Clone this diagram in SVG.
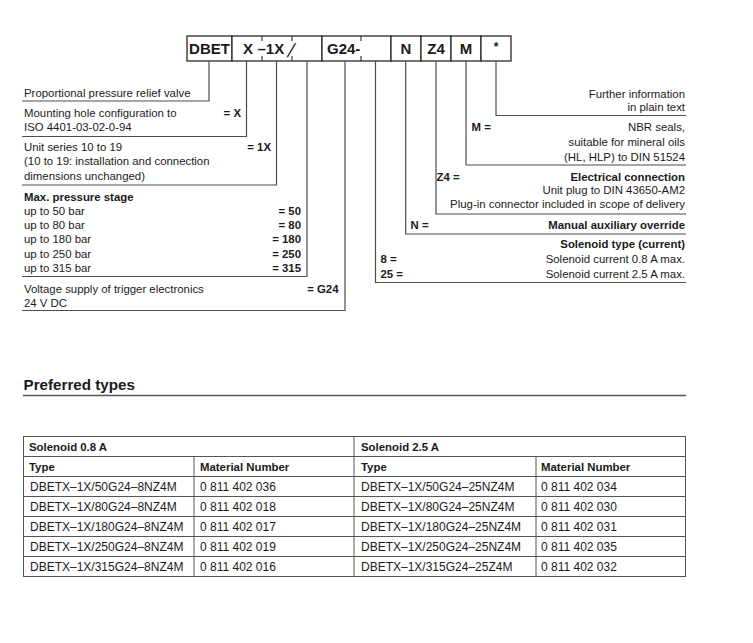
<svg xmlns="http://www.w3.org/2000/svg" width="753" height="643" viewBox="0 0 753 643">
<style>
text{font-family:"Liberation Sans",Arial,Helvetica,sans-serif;fill:#1a1a1a}
.t{font-size:11.4px}
.b{font-weight:bold}
.e{text-anchor:end}
.m{text-anchor:middle}
.code{font-size:15px;font-weight:bold}
.box{fill:#fff;stroke:#2a2a2a;stroke-width:1.3}
.ln{fill:none;stroke:#4d4d4d;stroke-width:1.2}
.tk{stroke:#2a2a2a;stroke-width:1.1}
.tb{fill:none;stroke:#555;stroke-width:1}
.td{font-size:12px}
.h{font-size:15.2px;font-weight:bold}
</style>
<rect width="753" height="643" fill="#fff"/>

<g id="ordering-code">
  <g id="code-dbet"><rect class="box" x="187" y="36" width="45" height="25"/><text class="code m" x="209.5" y="54">DBET</text></g>
  <g id="code-x-1x"><rect class="box" x="232" y="36" width="90" height="25"/>
    <text class="code" x="243" y="54">X</text><text class="code" x="257.5" y="54">–1X</text>
    <text x="0" y="0" style="font-size:19px" transform="translate(286.5,57) skewX(-18)">/</text>
    <line class="tk" x1="262" y1="36" x2="262" y2="41"/><line class="tk" x1="262" y1="56" x2="262" y2="61"/>
    <line class="tk" x1="292" y1="36" x2="292" y2="41"/><line class="tk" x1="292" y1="56" x2="292" y2="61"/>
  </g>
  <g id="code-g24"><rect class="box" x="322" y="36" width="69" height="25"/>
    <text class="code" x="327" y="54">G24-</text>
    <line class="tk" x1="361" y1="36" x2="361" y2="41"/><line class="tk" x1="361" y1="56" x2="361" y2="61"/>
  </g>
  <g id="code-n"><rect class="box" x="391" y="36" width="30" height="25"/><text class="code m" x="406" y="54">N</text></g>
  <g id="code-z4"><rect class="box" x="421" y="36" width="30" height="25"/><text class="code m" x="436" y="54">Z4</text></g>
  <g id="code-m"><rect class="box" x="451" y="36" width="30" height="25"/><text class="code m" x="466" y="54">M</text></g>
  <g id="code-star"><rect class="box" x="481" y="36" width="30" height="25"/><text class="b m" x="496" y="51" style="font-size:12px">*</text></g>
</g>

<g id="connectors">
  <polyline class="ln" points="209,61 209,101 22,101"/>
  <polyline class="ln" points="246.5,61 246.5,136.5 22,136.5"/>
  <polyline class="ln" points="276.5,61 276.5,185 22,185"/>
  <polyline class="ln" points="307,61 307,276.5 22,276.5"/>
  <polyline class="ln" points="345,61 345,310.5 22,310.5"/>
  <polyline class="ln" points="375.5,61 375.5,282.5 686,282.5"/>
  <polyline class="ln" points="405.7,61 405.7,234 686,234"/>
  <polyline class="ln" points="436,61 436,214 686,214"/>
  <polyline class="ln" points="466,61 466,165 686,165"/>
  <polyline class="ln" points="496,61 496,115.5 686,115.5"/>
</g>

<g id="desc-type"><text class="t" x="24" y="97">Proportional pressure relief valve</text></g>
<g id="desc-mounting">
  <text class="t" x="24" y="117">Mounting hole configuration to</text>
  <text class="t" x="24" y="131">ISO 4401-03-02-0-94</text>
  <text class="t b e" x="241" y="117">= X</text>
</g>
<g id="desc-series">
  <text class="t" x="24" y="151">Unit series 10 to 19</text>
  <text class="t" x="24" y="165">(10 to 19: installation and connection</text>
  <text class="t" x="24" y="180">dimensions unchanged)</text>
  <text class="t b e" x="271" y="151">= 1X</text>
</g>
<g id="desc-pressure">
  <text class="t b" x="24" y="201">Max. pressure stage</text>
  <text class="t" x="24" y="215">up to 50 bar</text>
  <text class="t" x="24" y="229">up to 80 bar</text>
  <text class="t" x="24" y="243">up to 180 bar</text>
  <text class="t" x="24" y="258">up to 250 bar</text>
  <text class="t" x="24" y="272">up to 315 bar</text>
  <text class="t b e" x="301" y="215">= 50</text>
  <text class="t b e" x="301" y="229">= 80</text>
  <text class="t b e" x="301" y="243">= 180</text>
  <text class="t b e" x="301" y="258">= 250</text>
  <text class="t b e" x="301" y="272">= 315</text>
</g>
<g id="desc-voltage">
  <text class="t" x="24" y="293">Voltage supply of trigger electronics</text>
  <text class="t" x="24" y="307">24 V DC</text>
  <text class="t b e" x="338.5" y="293">= G24</text>
</g>

<g id="desc-further">
  <text class="t e" x="685" y="98">Further information</text>
  <text class="t e" x="685" y="111">in plain text</text>
</g>
<g id="desc-seals">
  <text class="t b" x="471.5" y="131">M =</text>
  <text class="t e" x="685" y="131">NBR seals,</text>
  <text class="t e" x="685" y="146">suitable for mineral oils</text>
  <text class="t e" x="685" y="161">(HL, HLP) to DIN 51524</text>
</g>
<g id="desc-electrical">
  <text class="t b" x="436.5" y="181">Z4 =</text>
  <text class="t b e" x="685" y="181">Electrical connection</text>
  <text class="t e" x="685" y="194">Unit plug to DIN 43650-AM2</text>
  <text class="t e" x="685" y="208">Plug-in connector included in scope of delivery</text>
</g>
<g id="desc-override">
  <text class="t b" x="410.5" y="229">N =</text>
  <text class="t b e" x="685" y="229">Manual auxiliary override</text>
</g>
<g id="desc-solenoid">
  <text class="t b e" x="685" y="248">Solenoid type (current)</text>
  <text class="t b" x="380.5" y="263">8 =</text>
  <text class="t e" x="685" y="263">Solenoid current 0.8 A max.</text>
  <text class="t b" x="380.5" y="278">25 =</text>
  <text class="t e" x="685" y="278">Solenoid current 2.5 A max.</text>
</g>

<g id="preferred-heading">
  <text class="h" x="23.5" y="390">Preferred types</text>
  <line x1="23" y1="395.5" x2="686" y2="395.5" stroke="#555" stroke-width="1.6"/>
</g>

<g id="preferred-table">
  <rect class="tb" x="23.5" y="436.5" width="662" height="140"/>
  <line class="tb" x1="354" y1="436.5" x2="354" y2="576.5"/>
  <line class="tb" x1="194" y1="456.5" x2="194" y2="576.5"/>
  <line class="tb" x1="536" y1="456.5" x2="536" y2="576.5"/>
  <line class="tb" x1="23.5" y1="456.5" x2="685.5" y2="456.5"/>
  <line class="tb" x1="23.5" y1="476.5" x2="685.5" y2="476.5"/>
  <line class="tb" x1="23.5" y1="496.5" x2="685.5" y2="496.5"/>
  <line class="tb" x1="23.5" y1="516.5" x2="685.5" y2="516.5"/>
  <line class="tb" x1="23.5" y1="536.5" x2="685.5" y2="536.5"/>
  <line class="tb" x1="23.5" y1="556.5" x2="685.5" y2="556.5"/>

  <text class="t b" x="29" y="451">Solenoid 0.8 A</text>
  <text class="t b" x="361" y="451">Solenoid 2.5 A</text>
  <text class="t b" x="29" y="471">Type</text>
  <text class="t b" x="200" y="471">Material Number</text>
  <text class="t b" x="361" y="471">Type</text>
  <text class="t b" x="541" y="471">Material Number</text>

  <text class="td" x="30" y="491">DBETX–1X/50G24–8NZ4M</text>
  <text class="td" x="200" y="491">0 811 402 036</text>
  <text class="td" x="361" y="491">DBETX–1X/50G24–25NZ4M</text>
  <text class="td" x="541" y="491">0 811 402 034</text>

  <text class="td" x="30" y="511">DBETX–1X/80G24–8NZ4M</text>
  <text class="td" x="200" y="511">0 811 402 018</text>
  <text class="td" x="361" y="511">DBETX–1X/80G24–25NZ4M</text>
  <text class="td" x="541" y="511">0 811 402 030</text>

  <text class="td" x="30" y="531">DBETX–1X/180G24–8NZ4M</text>
  <text class="td" x="200" y="531">0 811 402 017</text>
  <text class="td" x="361" y="531">DBETX–1X/180G24–25NZ4M</text>
  <text class="td" x="541" y="531">0 811 402 031</text>

  <text class="td" x="30" y="551">DBETX–1X/250G24–8NZ4M</text>
  <text class="td" x="200" y="551">0 811 402 019</text>
  <text class="td" x="361" y="551">DBETX–1X/250G24–25NZ4M</text>
  <text class="td" x="541" y="551">0 811 402 035</text>

  <text class="td" x="30" y="571">DBETX–1X/315G24–8NZ4M</text>
  <text class="td" x="200" y="571">0 811 402 016</text>
  <text class="td" x="361" y="571">DBETX–1X/315G24–25Z4M</text>
  <text class="td" x="541" y="571">0 811 402 032</text>
</g>
</svg>
